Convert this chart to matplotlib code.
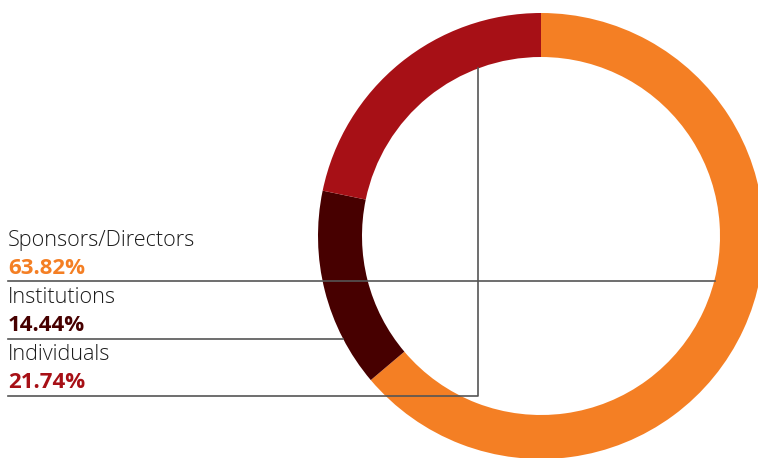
import matplotlib
matplotlib.use("Agg")
import matplotlib.pyplot as plt

# Funding sources and shares (%)
categories = ["Sponsors/Directors", "Institutions", "Individuals"]
shares = [63.82, 14.44, 21.74]
colors = ["#F47F24", "#470000", "#A71016"]

W, H = 758, 458
fig = plt.figure(figsize=(W / 100, H / 100), dpi=100)
ax = fig.add_axes([0, 0, 1, 1])

# Donut ring
cx, cy, r_out, ring_w = 541, H - 236, 223, 44
ax.pie(shares, colors=colors, startangle=90, counterclock=False,
       center=(cx, cy), radius=r_out, frame=True,
       wedgeprops=dict(width=ring_w, linewidth=0))
ax.set_xlim(0, W)
ax.set_ylim(0, H)
ax.set_aspect("equal")
ax.axis("off")

# Leader lines
lc = "#555555"
lw = 1.2
ax.plot([8, 715], [H - 281, H - 281], color=lc, lw=lw, zorder=5)
ax.plot([8, 343], [H - 339, H - 339], color=lc, lw=lw, zorder=5)
ax.plot([8, 478, 478], [H - 396, H - 396, H - 68], color=lc, lw=lw, zorder=5)

# Labels
name_y = [246, 303, 360]
pct_y = [274, 331, 388]
for name, val, col, ny, py in zip(categories, shares, colors, name_y, pct_y):
    ax.text(8, H - ny, name, fontsize=15.6, family="Open Sans", color="#1a1a1a",
            ha="left", va="baseline", fontweight="light")
    ax.text(8, H - py, f"{val:.2f}%", fontsize=16, family="Open Sans",
            fontweight="bold", color=col, ha="left", va="baseline")

fig.savefig("out.png", dpi=100)
